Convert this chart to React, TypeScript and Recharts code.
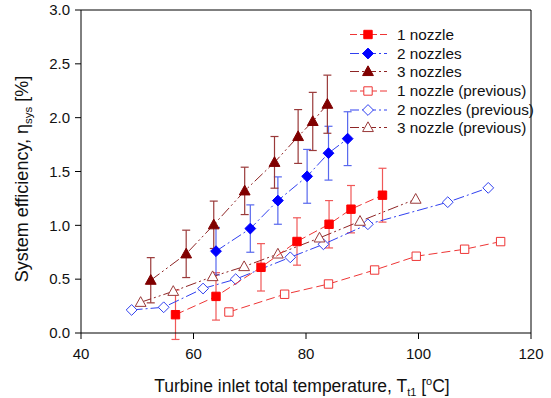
import React from 'react';
import { ScatterChart, Scatter, XAxis, YAxis, ErrorBar, ReferenceLine, Legend, Label } from 'recharts';

// ---- data ----
const n1X = [56.8, 64.0, 72.0, 78.4, 84.1, 88.0, 93.6];
const n1Y = [0.17, 0.34, 0.61, 0.85, 1.01, 1.15, 1.28];
const n1Err = [0.23, 0.22, 0.22, 0.22, 0.22, 0.22, 0.25];

const n2X = [64.0, 70.1, 75.0, 80.2, 84.0, 87.4];
const n2Y = [0.76, 0.97, 1.23, 1.455, 1.67, 1.805];
const n2Err = [0.22, 0.22, 0.22, 0.25, 0.25, 0.25];

const n3X = [52.4, 58.7, 63.6, 69.1, 74.4, 78.6, 81.2, 83.8];
const n3Y = [0.49, 0.735, 1.005, 1.32, 1.585, 1.825, 1.965, 2.125];
const n3Err = [0.21, 0.22, 0.22, 0.22, 0.24, 0.25, 0.27, 0.27];

const p1X = [66.3, 76.2, 84.0, 92.2, 99.6, 108.2, 114.6];
const p1Y = [0.195, 0.36, 0.455, 0.585, 0.713, 0.778, 0.849];

const p2X = [49.0, 54.7, 61.7, 67.5, 77.2, 83.1, 91.0, 105.2, 112.4];
const p2Y = [0.214, 0.239, 0.413, 0.5, 0.703, 0.824, 1.01, 1.215, 1.348];

const p3X = [50.6, 56.4, 63.4, 69.0, 75.0, 82.4, 89.6, 99.5];
const p3Y = [0.285, 0.387, 0.524, 0.617, 0.734, 0.883, 1.038, 1.243];

const xTicks = [40, 60, 80, 100, 120];
const yTicks = [0, 0.5, 1.0, 1.5, 2.0, 2.5, 3.0];

const seriesNames = ['1 nozzle', '2 nozzles', '3 nozzles', '1 nozzle (previous)', '2 nozzles (previous)', '3 nozzle (previous)'];

const zip = (xs: number[], ys: number[], es?: number[]) =>
  xs.map((x, i) => (es ? { x, y: ys[i], e: es[i] } : { x, y: ys[i] }));

// ---- styles ----
const RED = '#FF0000';
const BLUE = '#0000FF';
const DRED = '#800000';
const RED_L = '#EE3535';
const BLUE_L = '#3040F0';
const DRED_L = '#8E2525';
const RED_E = '#F05858';
const BLUE_E = '#5868EE';
const DRED_E = '#9A3A3A';

const DASH = '9 4';
const DASHDOT = '11 3 2 3';
const DASHDOTDOT = '11 3 2 3 2 3';
const FONT = 'Liberation Sans, Arial, sans-serif';

type Kind = 'sq' | 'dia' | 'tri';

function markerPath(kind: Kind, cx: number, cy: number) {
  if (kind === 'sq') {
    const h = 4.2;
    return `M${cx - h},${cy - h}L${cx + h},${cy - h}L${cx + h},${cy + h}L${cx - h},${cy + h}Z`;
  }
  if (kind === 'dia') {
    const h = 5.4;
    return `M${cx},${cy - h}L${cx + h},${cy}L${cx},${cy + h}L${cx - h},${cy}Z`;
  }
  const s = 5.4;
  return `M${cx},${cy - s * 1.05}L${cx + s},${cy + s * 0.75}L${cx - s},${cy + s * 0.75}Z`;
}

const makeShape = (kind: Kind, color: string, filled: boolean) => (props: any) => {
  const { cx, cy } = props;
  if (cx == null || cy == null) return <g />;
  return (
    <path
      d={markerPath(kind, cx, cy)}
      fill={filled ? color : '#fff'}
      stroke={color}
      strokeWidth={1}
    />
  );
};

const legendItems = [
  { name: seriesNames[0], kind: 'sq' as Kind, color: RED, line: RED_L, filled: true },
  { name: seriesNames[1], kind: 'dia' as Kind, color: BLUE, line: BLUE_L, filled: true },
  { name: seriesNames[2], kind: 'tri' as Kind, color: DRED, line: DRED_L, filled: true },
  { name: seriesNames[3], kind: 'sq' as Kind, color: RED_L, line: RED_L, filled: false },
  { name: seriesNames[4], kind: 'dia' as Kind, color: BLUE_L, line: BLUE_L, filled: false },
  { name: seriesNames[5], kind: 'tri' as Kind, color: DRED_E, line: DRED_L, filled: false },
];

const rowYs = [34.5, 53.5, 71.5, 91, 110, 127.5];

const renderLegend = () => (
  <svg width={200} height={140} style={{ overflow: 'visible', display: 'block' }}>
    {legendItems.map((it, i) => {
      const y = rowYs[i] - 25;
      return (
        <g key={it.name}>
          <line x1={5} x2={42} y1={y} y2={y} stroke={it.line} strokeWidth={1} strokeDasharray={i === 0 || i === 3 ? '7 3' : '9 3 2 3'} />
          <path d={markerPath(it.kind, 23, y)} fill={it.filled ? it.color : '#fff'} stroke={it.color} strokeWidth={1} />
          <text x={52} y={y} dy="0.35em" fontSize={15.3} fill="#111" fontFamily={FONT}>
            {it.name}
          </text>
        </g>
      );
    })}
  </svg>
);

const YLabel = () => {
  const cy = 179;
  const x = 28;
  return (
    <text
      x={x}
      y={cy}
      transform={`rotate(-90, ${x}, ${cy})`}
      textAnchor="middle"
      fontSize={18}
      fill="#111"
      fontFamily={FONT}
    >
      System efficiency, η
      <tspan fontSize={11.5} dy={4}>sys</tspan>
      <tspan dy={-4}> [%]</tspan>
    </text>
  );
};

const XLabel = (props: any) => {
  const vb = props.viewBox || {};
  const cx = (vb.x ?? 81) + (vb.width ?? 450) / 2 - 4;
  const y = 392;
  return (
    <text x={cx} y={y} textAnchor="middle" fontSize={17.5} fill="#111" fontFamily={FONT}>
      Turbine inlet total temperature, T
      <tspan fontSize={11} dy={4}>t1</tspan>
      <tspan dy={-4}> [</tspan>
      <tspan fontSize={11} dy={-7}>o</tspan>
      <tspan dy={7}>C]</tspan>
    </text>
  );
};

export default function App() {
  const tickStyle = { fontSize: 15, fill: '#111', fontFamily: FONT };
  return (
    <div style={{ position: 'absolute', left: 0, top: 0, width: 551, height: 398, background: '#fff' }}>
      <ScatterChart width={551} height={398} margin={{ top: 10, right: 20, left: 0, bottom: 0 }}>
        <XAxis
          type="number"
          dataKey="x"
          domain={[40, 120]}
          ticks={xTicks}
          allowDataOverflow
          height={65}
          tickSize={6}
          tickMargin={9}
          stroke="#000"
          tick={tickStyle}
        >
          <Label content={<XLabel />} />
        </XAxis>
        <YAxis
          type="number"
          dataKey="y"
          domain={[0, 3]}
          ticks={yTicks}
          allowDataOverflow
          width={81}
          tickSize={6}
          tickMargin={5}
          stroke="#000"
          tick={tickStyle}
          tickFormatter={(v: number) => v.toFixed(1)}
        >
          <Label content={<YLabel />} />
        </YAxis>
        <ReferenceLine y={3} stroke="#000" strokeWidth={1} ifOverflow="visible" />
        <ReferenceLine x={120} stroke="#000" strokeWidth={1} ifOverflow="visible" />

        <Scatter
          name={seriesNames[3]}
          data={zip(p1X, p1Y)}
          fill={RED_L}
          line={{ stroke: RED_L, strokeWidth: 1, strokeDasharray: DASH }}
          lineType="joint"
          shape={makeShape('sq', RED_L, false)}
          isAnimationActive={false}
        />
        <Scatter
          name={seriesNames[4]}
          data={zip(p2X, p2Y)}
          fill={BLUE_L}
          line={{ stroke: BLUE_L, strokeWidth: 1, strokeDasharray: DASHDOT }}
          lineType="joint"
          shape={makeShape('dia', BLUE_L, false)}
          isAnimationActive={false}
        />
        <Scatter
          name={seriesNames[5]}
          data={zip(p3X, p3Y)}
          fill={DRED_L}
          line={{ stroke: DRED_L, strokeWidth: 1, strokeDasharray: DASHDOTDOT }}
          lineType="joint"
          shape={makeShape('tri', DRED_E, false)}
          isAnimationActive={false}
        />

        <Scatter
          name={seriesNames[0]}
          data={zip(n1X, n1Y, n1Err)}
          fill={RED}
          line={{ stroke: RED_L, strokeWidth: 1, strokeDasharray: DASH }}
          lineType="joint"
          shape={makeShape('sq', RED, true)}
          isAnimationActive={false}
        >
          <ErrorBar dataKey="e" direction="y" width={4} stroke={RED_E} strokeWidth={1.2} />
        </Scatter>
        <Scatter
          name={seriesNames[1]}
          data={zip(n2X, n2Y, n2Err)}
          fill={BLUE}
          line={{ stroke: BLUE_L, strokeWidth: 1, strokeDasharray: DASHDOT }}
          lineType="joint"
          shape={makeShape('dia', BLUE, true)}
          isAnimationActive={false}
        >
          <ErrorBar dataKey="e" direction="y" width={4} stroke={BLUE_E} strokeWidth={1.2} />
        </Scatter>
        <Scatter
          name={seriesNames[2]}
          data={zip(n3X, n3Y, n3Err)}
          fill={DRED}
          line={{ stroke: DRED_L, strokeWidth: 1, strokeDasharray: DASHDOTDOT }}
          lineType="joint"
          shape={makeShape('tri', DRED, true)}
          isAnimationActive={false}
        >
          <ErrorBar dataKey="e" direction="y" width={4} stroke={DRED_E} strokeWidth={1.2} />
        </Scatter>

        <Legend
          layout="horizontal"
          verticalAlign="middle"
          align="center"
          content={renderLegend}
          wrapperStyle={{ position: 'absolute', left: 345, top: 25, width: 200, height: 140 }}
        />
      </ScatterChart>
    </div>
  );
}
